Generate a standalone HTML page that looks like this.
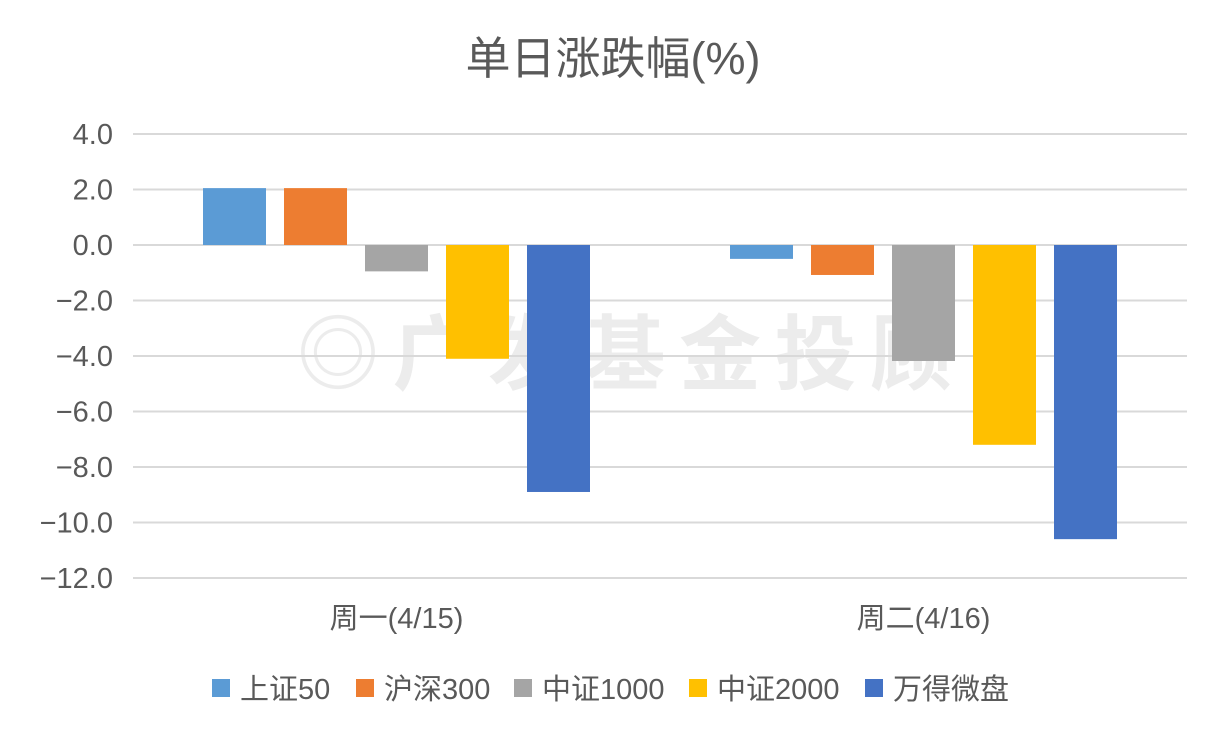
<!DOCTYPE html>
<html><head><meta charset="utf-8"><style>
body{margin:0;background:#fff;}
svg text{font-family:"Liberation Sans","Noto Sans CJK SC",sans-serif;}
</style></head><body>
<svg id="chart" width="1218" height="751">
<rect width="1218" height="751" fill="#fff"/>
<text x="613" y="74" text-anchor="middle" font-size="45" fill="#595959">单日涨跌幅(%)</text>
<text x="297" y="383" font-size="82" font-weight="bold" fill="#ececec" textLength="655">◎广发基金投顾</text>
<g id="grid"></g><g id="bars"></g><g id="xlabels"></g><g id="legend"></g>
</svg>
<script>
const categories=["周一(4/15)","周二(4/16)"];
const seriesNames=["上证50","沪深300","中证1000","中证2000","万得微盘"];
const seriesColors=["#5b9bd5","#ed7d31","#a5a5a5","#ffc000","#4472c4"];
const seriesValues=[[2.05,-0.5],[2.05,-1.08],[-0.95,-4.18],[-4.1,-7.2],[-8.9,-10.6]];
const yTicks=[4,2,0,-2,-4,-6,-8,-10,-12];
const yTickLabels=["4.0","2.0","0.0","−2.0","−4.0","−6.0","−8.0","−10.0","−12.0"];
const NS="http://www.w3.org/2000/svg";
const X0=133,X1=1187;
function y(v){return 245-(v*27.75);}
const catW=(X1-X0)/categories.length;
function xc(i){return X0+catW*(i+0.5);}
function mk(t,a,p){const e=document.createElementNS(NS,t);for(const k in a)e.setAttribute(k,a[k]);p.appendChild(e);return e;}
const grid=document.getElementById('grid');
yTicks.forEach((t,i)=>{
  const l=mk('line',{x1:X0,x2:X1,y1:y(t),y2:y(t),stroke:'#d9d9d9','stroke-width':2},grid);
  
  
  const tx=mk('text',{x:113,y:y(t)+10,'text-anchor':'end','font-size':29,fill:'#595959'},grid);
  tx.textContent=yTickLabels[i];
  
  
});
const bars=document.getElementById('bars');
const bw=63,step=81;
categories.forEach((c,ci)=>{
  seriesValues.forEach((s,si)=>{
    const v=s[ci];
    const x=xc(ci)-bw/2+(si-2)*step;
    const r=mk('rect',{x:x,y:Math.min(y(0),y(v)),width:bw,height:Math.abs(y(v)-y(0)),fill:seriesColors[si]},bars);
    
    
  });
  const t=mk('text',{x:xc(ci),y:628,'text-anchor':'middle','font-size':29,fill:'#595959'},document.getElementById('xlabels'));
  t.textContent=c;
  
  
});
const lg=document.getElementById('legend');
const lx=[212,356,514,689,865];
seriesNames.forEach((n,i)=>{
  const g=mk('g',{},lg);
  
  
  mk('rect',{x:lx[i],y:679,width:18,height:18,fill:seriesColors[i]},g);
  const t=mk('text',{x:lx[i]+28,y:699,'font-size':29,fill:'#595959'},g);
  t.textContent=n;
});
</script>
</body></html>
